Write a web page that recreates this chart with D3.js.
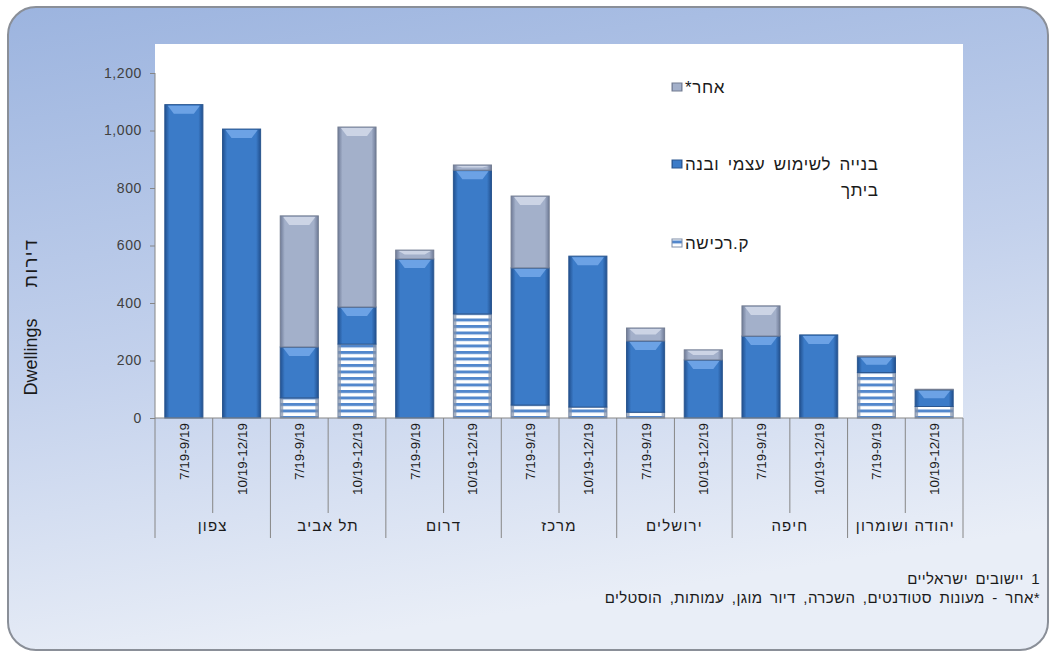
<!DOCTYPE html>
<html><head><meta charset="utf-8">
<script src="https://cdn.jsdelivr.net/npm/d3@7"></script>
<style>
html,body{margin:0;padding:0;background:#fff;}
text{font-family:"Liberation Sans",Arial,sans-serif;}
</style></head>
<body><svg id="chart" width="1058" height="653"></svg>
<script>
const regions = ["צפון","תל אביב","דרום","מרכז","ירושלים","חיפה","יהודה ושומרון"];
const periods = ["7/19-9/19","10/19-12/19"];
const purchase  = [0,0,70,257,0,362,45,38,20,0,0,0,158,40];
const selfBuild = [1090,1005,177,129,553,500,477,525,248,202,285,289,55,58];
const other     = [0,0,456,626,31,18,250,0,45,35,105,0,3,2];
const yTicks = [0,200,400,600,800,1000,1200];
const seriesNames = ["ק.רכישה","בנייה לשימוש עצמי ובנה ביתך","אחר*"];
const footnotes = ["1 יישובים ישראליים","*אחר - מעונות סטודנטים, השכרה, דיור מוגן, עמותות, הוסטלים"];

const svg = d3.select("#chart");
const defs = svg.append("defs");

// background gradient
const bg = defs.append("linearGradient").attr("id","bg").attr("x1",0).attr("y1",0).attr("x2",0.25).attr("y2",1);
bg.append("stop").attr("offset","0%").attr("stop-color","#9cb4df");
bg.append("stop").attr("offset","55%").attr("stop-color","#c3d1ec");
bg.append("stop").attr("offset","100%").attr("stop-color","#e9eef7");

function hgrad(id, edge, mid){
  const g = defs.append("linearGradient").attr("id",id).attr("x1",0).attr("x2",1).attr("y1",0).attr("y2",0);
  g.append("stop").attr("offset","0%").attr("stop-color",edge);
  g.append("stop").attr("offset","12%").attr("stop-color",mid);
  g.append("stop").attr("offset","88%").attr("stop-color",mid);
  g.append("stop").attr("offset","100%").attr("stop-color",edge);
}
hgrad("gSelf","#21508f","#3b7bc8");
hgrad("gOther","#6f7b97","#a3b0ca");

const pat = defs.append("pattern").attr("id","pStripe").attr("patternUnits","userSpaceOnUse")
  .attr("width",60).attr("height",6.5);
pat.append("rect").attr("width",60).attr("height",6.5).attr("fill","#ffffff");
pat.append("rect").attr("y",0).attr("width",60).attr("height",3).attr("fill","#5287cc");

svg.append("rect").attr("x",8).attr("y",7).attr("width",1040).attr("height",643)
  .attr("rx",28).attr("fill","url(#bg)").attr("stroke","#8a8f98").attr("stroke-width",2);

const keys = d3.range(regions.length*periods.length);
const pLeft = 155, pRight = 963, pTop = 44, pBottom = 418;
const x = d3.scaleBand().domain(keys).range([pLeft,pRight]).paddingInner(0.34).paddingOuter(0.17);
const y = d3.scaleLinear().domain([0,1200]).range([pBottom,73]);

svg.append("rect").attr("x",pLeft).attr("y",pTop).attr("width",pRight-pLeft).attr("height",pBottom-pTop).attr("fill","#ffffff");

// stacked data
const rows = keys.map(i => ({key:i, purchase:purchase[i], selfBuild:selfBuild[i], other:other[i]}));
const stack = d3.stack().keys(["purchase","selfBuild","other"])(rows);
const fills = {purchase:"url(#pStripe)", selfBuild:"url(#gSelf)", other:"url(#gOther)"};
const strokes = {purchase:"#7f8ea8", selfBuild:"#2a568f", other:"#737d92"};
const hilite = {purchase:null, selfBuild:"#75a9ea", other:"#d3dbea"};

const bw = x.bandwidth();
stack.forEach(layer => {
  const k = layer.key;
  const g = svg.append("g");
  layer.forEach(d => {
    const h = y(d[0]) - y(d[1]);
    if (h <= 0) return;
    const x0 = x(d.data.key), y0 = y(d[1]);
    g.append("rect").attr("x",x0).attr("y",y0).attr("width",bw).attr("height",h)
      .attr("fill",fills[k]).attr("stroke",strokes[k]).attr("stroke-width",1);
    if (k === "purchase") {
      g.append("rect").attr("x",x0).attr("y",y0).attr("width",3).attr("height",h).attr("fill","#8090aa").attr("opacity",0.7);
      g.append("rect").attr("x",x0+bw-3).attr("y",y0).attr("width",3).attr("height",h).attr("fill","#8090aa").attr("opacity",0.7);
    }
    if (hilite[k] && h > 4) {
      const dh = Math.min(9, h*0.5);
      g.append("path")
        .attr("d",`M${x0+3},${y0+1}L${x0+bw-3},${y0+1}L${x0+bw-9},${y0+dh}L${x0+9},${y0+dh}Z`)
        .attr("fill",hilite[k]).attr("opacity",0.85);
    }
  });
});

// y axis
const yAxis = svg.append("g").attr("transform",`translate(${pLeft},0)`)
  .call(d3.axisLeft(y).tickValues(yTicks).tickSize(5).tickPadding(8).tickFormat(d3.format(",")));
yAxis.select(".domain").remove();
yAxis.selectAll("line").attr("stroke","#868686");
yAxis.selectAll("text").attr("font-size",14).attr("letter-spacing",0.6).attr("fill","#404040").attr("font-family","Liberation Sans, Arial, sans-serif");
svg.append("line").attr("x1",pLeft).attr("x2",pLeft).attr("y1",y(1200)).attr("y2",538).attr("stroke","#868686");

// x axis line
svg.append("line").attr("x1",pLeft).attr("x2",pRight).attr("y1",pBottom).attr("y2",pBottom).attr("stroke","#868686");

// separators
const step = x.step();
keys.forEach(i => {
  if (i === 0) return;
  const bx = x(i) - x.paddingInner()*step/2;
  const isGroup = i % periods.length === 0;
  svg.append("line").attr("x1",bx).attr("x2",bx).attr("y1",pBottom).attr("y2", isGroup ? 538 : 513)
    .attr("stroke","#868686");
});
svg.append("line").attr("x1",pRight).attr("x2",pRight).attr("y1",pBottom).attr("y2",538).attr("stroke","#868686");

// period labels
keys.forEach(i => {
  const cx = x(i) + bw/2;
  svg.append("text").attr("transform",`translate(${cx+5},423) rotate(-90)`)
    .attr("text-anchor","end").attr("font-size",13.5).attr("fill","#1a1a1a")
    .attr("direction","ltr")
    .text(periods[i % periods.length]);
});
// region labels
regions.forEach((r,gi) => {
  const x0 = x(gi*2) - x.paddingInner()*step/2;
  const cx = x0 + step;
  svg.append("text").attr("x",cx).attr("y",531).attr("text-anchor","middle")
    .attr("font-size",15).attr("letter-spacing",1.2).attr("fill","#1a1a1a").text(r);
});

// y title
svg.append("text").attr("transform","translate(37,357) rotate(-90)").attr("text-anchor","middle")
  .attr("font-size",18).attr("fill","#1a1a1a").text("Dwellings");
svg.append("text").attr("transform","translate(37,263) rotate(-90)").attr("text-anchor","middle")
  .attr("font-size",18).attr("letter-spacing",1.5).attr("fill","#1a1a1a").attr("direction","rtl").text("דירות");

// legend
const legColors = ["url(#pStripe)","url(#gSelf)","url(#gOther)"];
const leg = svg.append("g").attr("font-size",17).attr("letter-spacing",0.6).attr("word-spacing",3).attr("fill","#1a1a1a");
function legIcon(cy, f, s){
  leg.append("rect").attr("x",672).attr("y",cy-4).attr("width",10).attr("height",8).attr("fill",f).attr("stroke",s).attr("stroke-width",1);
}
// other
legIcon(87, legColors[2], strokes.other);
leg.append("text").attr("x",685).attr("y",93)
  .attr("direction","rtl").attr("text-anchor","end").text(seriesNames[2]);
// self build (wrapped)
legIcon(164, legColors[1], strokes.selfBuild);
const words = seriesNames[1].split(" ");
const l1 = leg.append("text").attr("x",685).attr("y",170)
  .attr("direction","rtl").attr("text-anchor","end").text(words.slice(0,4).join(" "));
const w1 = l1.node().getComputedTextLength();
leg.append("text").attr("x",685+w1).attr("y",196)
  .attr("direction","rtl").attr("text-anchor","start").text(words.slice(4).join(" "));
// purchase
legIcon(243, legColors[0], strokes.purchase);
leg.append("text").attr("x",685).attr("y",249)
  .attr("direction","rtl").attr("text-anchor","end").text(seriesNames[0]);

// footnotes
footnotes.forEach((t,i) => {
  svg.append("text").attr("x",1040).attr("y",584 + i*19).attr("font-size",15).attr("letter-spacing",0.4)
    .attr("word-spacing",3).attr("fill","#1a1a1a")
    .attr("direction","rtl").attr("text-anchor","start").text(t);
});
</script></body></html>
